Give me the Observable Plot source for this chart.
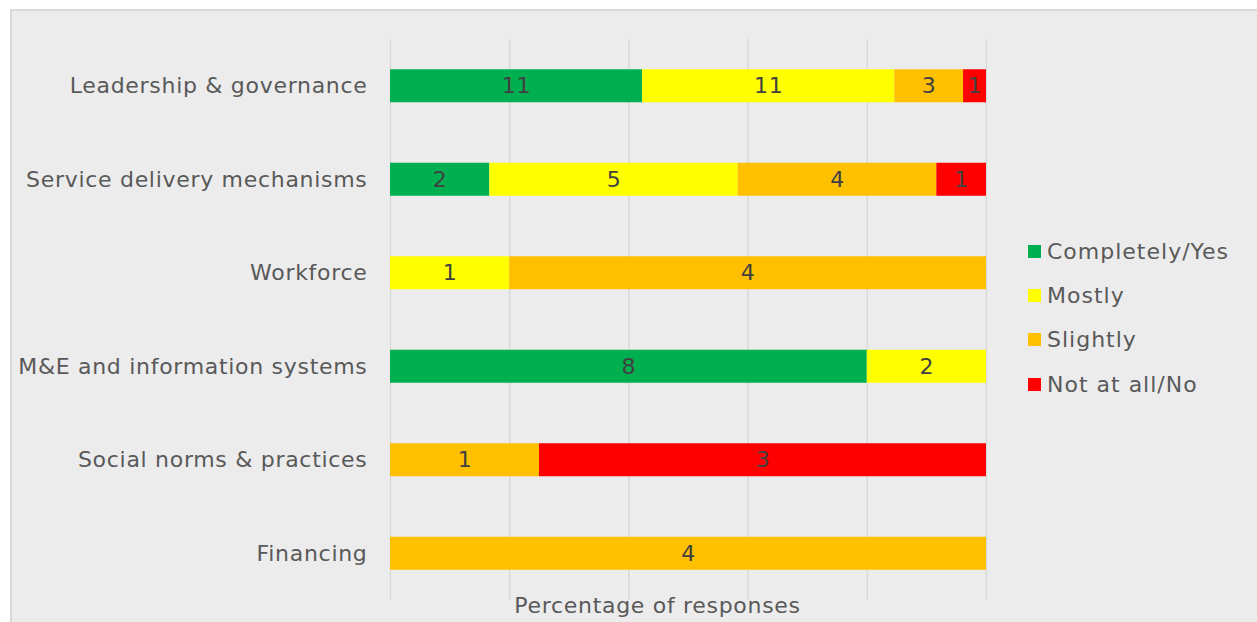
<!DOCTYPE html>
<html>
<head>
<meta charset="utf-8">
<script src="https://cdn.jsdelivr.net/npm/d3@7"></script>
<script src="https://cdn.jsdelivr.net/npm/@observablehq/plot@0.6"></script>
<style>
  html, body { margin: 0; padding: 0; background: #ffffff; }
  #wrap { position: relative; width: 1257px; height: 622px; overflow: hidden; font-family: "DejaVu Sans", sans-serif; }
  #frame { position: absolute; left: 10px; top: 9px; width: 1262px; height: 630px; background: #ececec; border: 2px solid #d9d9d9; box-sizing: border-box; }
  #chart { position: absolute; left: 0; top: 0; }
  #legend { position: absolute; left: 1028px; top: 229px; font-size: 22px; letter-spacing: 1px; color: #595959; }
  .item { display: flex; align-items: center; height: 44.3px; }
  .sw { width: 13px; height: 13px; margin-right: 6px; }
</style>
</head>
<body>
<div id="wrap">
  <div id="frame"></div>
  <div id="chart"></div>
  <div id="legend"></div>
</div>
<script>
const categories = ["Leadership & governance", "Service delivery mechanisms", "Workforce", "M&E and information systems", "Social norms & practices", "Financing"];
const responses = ["Completely/Yes", "Mostly", "Slightly", "Not at all/No"];
const colors = ["#00b050", "#ffff00", "#ffc000", "#ff0000"];
const completelyYes = [11, 2, 0, 8, 0, 0];
const mostly = [11, 5, 1, 2, 0, 0];
const slightly = [3, 4, 4, 0, 1, 4];
const notAtAll = [1, 1, 0, 0, 3, 0];
const gridTicks = [0, 0.2, 0.4, 0.6, 0.8, 1];
const xLabel = "Percentage of responses";

const series = [completelyYes, mostly, slightly, notAtAll];
const data = [];
categories.forEach((c, i) => {
  series.forEach((s, j) => {
    if (s[i] > 0) data.push({category: c, response: responses[j], value: s[i]});
  });
});

const plot = Plot.plot({
  width: 1257,
  height: 622,
  marginTop: 39,
  marginBottom: 22,
  marginLeft: 390,
  marginRight: 271,
  style: { background: "transparent", fontFamily: "'DejaVu Sans', sans-serif", fontSize: "22px", letterSpacing: "0.7px", color: "#595959", overflow: "visible" },
  x: { domain: [0, 1], axis: null },
  y: { domain: categories, paddingInner: 0.647, paddingOuter: 0.3235, align: 0.5, round: false, label: null },
  color: { domain: responses, range: colors },
  marks: [
    Plot.ruleX(gridTicks, { stroke: "#d9d9d9", strokeWidth: 1.5, strokeOpacity: 1 }),
    Plot.barX(data, Plot.stackX({ offset: "normalize", order: responses, x: "value", y: "category", fill: "response", inset: 0 })),
    Plot.text(data, Plot.stackX({ offset: "normalize", order: responses, x: "value", y: "category", z: "response", text: "value", fill: "#404040", fontSize: 22 })),
    Plot.axisY({ tickSize: 0, tickPadding: 23, fontSize: 22, fill: "#595959", label: null }),
    Plot.text([xLabel], { frameAnchor: "bottom", dx: -31, dy: 12, lineAnchor: "bottom", fontSize: 22, fill: "#595959", style: "letter-spacing:0.9px" })
  ]
});
document.getElementById("chart").appendChild(plot);

const legend = document.getElementById("legend");
responses.forEach((r, i) => {
  const item = document.createElement("div");
  item.className = "item";
  const sw = document.createElement("span");
  sw.className = "sw";
  sw.style.background = colors[i];
  const t = document.createElement("span");
  t.textContent = r;
  item.appendChild(sw);
  item.appendChild(t);
  legend.appendChild(item);
});
</script>
</body>
</html>
